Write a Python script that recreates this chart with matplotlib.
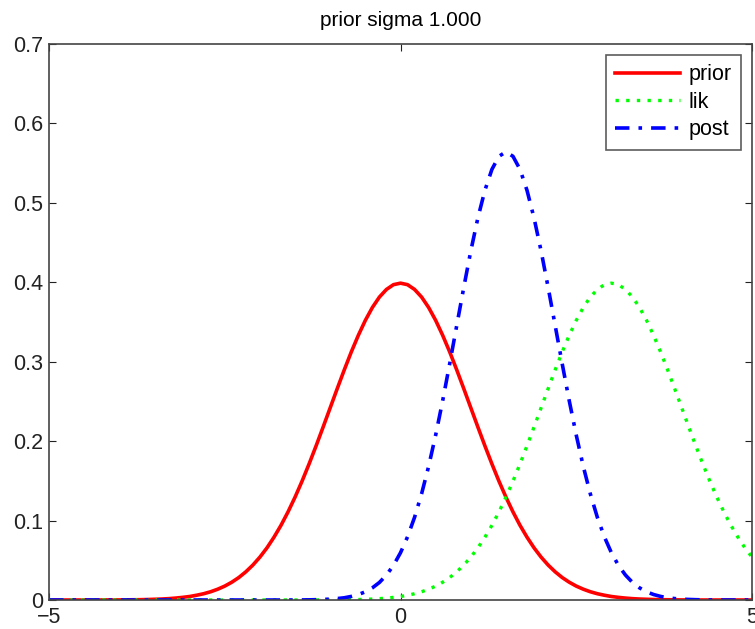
import numpy as np
import matplotlib
matplotlib.use("Agg")
import matplotlib.pyplot as plt

# x positions, step 0.1 from -5 to 5 (101 points)
x = np.round(np.arange(-50, 51) * 0.1, 1)

prior = [0.0000, 0.0000, 0.0000, 0.0000, 0.0000, 0.0000, 0.0000, 0.0000,
         0.0001, 0.0001, 0.0001, 0.0002, 0.0003, 0.0004, 0.0006, 0.0009, 0.0012, 0.0017,
         0.0024, 0.0033, 0.0044, 0.0060, 0.0079, 0.0104, 0.0136, 0.0175, 0.0224, 0.0283,
         0.0355, 0.0440, 0.0540, 0.0656, 0.0790, 0.0940, 0.1109, 0.1295, 0.1497, 0.1714,
         0.1942, 0.2179, 0.2420, 0.2661, 0.2897, 0.3123, 0.3332, 0.3521, 0.3683, 0.3814,
         0.3910, 0.3970, 0.3989,
         0.3970, 0.3910, 0.3814, 0.3683, 0.3521, 0.3332, 0.3123, 0.2897, 0.2661, 0.2420,
         0.2179, 0.1942, 0.1714, 0.1497, 0.1295, 0.1109, 0.0940, 0.0790, 0.0656, 0.0540,
         0.0440, 0.0355, 0.0283, 0.0224, 0.0175, 0.0136, 0.0104, 0.0079, 0.0060, 0.0044,
         0.0033, 0.0024, 0.0017, 0.0012, 0.0009, 0.0006, 0.0004, 0.0003, 0.0002, 0.0001,
         0.0001, 0.0001, 0.0000, 0.0000, 0.0000, 0.0000, 0.0000, 0.0000, 0.0000, 0.0000]

lik = [0.0000] * 30 + [
       0.0000, 0.0000, 0.0000, 0.0000, 0.0000, 0.0000, 0.0000, 0.0000,
       0.0001, 0.0001, 0.0001, 0.0002, 0.0003, 0.0004, 0.0006, 0.0009, 0.0012, 0.0017,
       0.0024, 0.0033, 0.0044, 0.0060, 0.0079, 0.0104, 0.0136, 0.0175, 0.0224, 0.0283,
       0.0355, 0.0440, 0.0540, 0.0656, 0.0790, 0.0940, 0.1109, 0.1295, 0.1497, 0.1714,
       0.1942, 0.2179, 0.2420, 0.2661, 0.2897, 0.3123, 0.3332, 0.3521, 0.3683, 0.3814,
       0.3910, 0.3970, 0.3989,
       0.3970, 0.3910, 0.3814, 0.3683, 0.3521, 0.3332, 0.3123, 0.2897, 0.2661, 0.2420,
       0.2179, 0.1942, 0.1714, 0.1497, 0.1295, 0.1109, 0.0940, 0.0790, 0.0656, 0.0540]

post = [0.0000] * 35 + [
        0.0001, 0.0001, 0.0002, 0.0004, 0.0007, 0.0011, 0.0018, 0.0028, 0.0045, 0.0069,
        0.0103, 0.0153, 0.0221, 0.0314, 0.0436, 0.0595, 0.0795, 0.1041, 0.1337, 0.1682,
        0.2076, 0.2510, 0.2975, 0.3456, 0.3936, 0.4394, 0.4808, 0.5156, 0.5421, 0.5586,
        0.5642,
        0.5586, 0.5421, 0.5156, 0.4808, 0.4394, 0.3936, 0.3456, 0.2975, 0.2510, 0.2076,
        0.1682, 0.1337, 0.1041, 0.0795, 0.0595, 0.0436, 0.0314, 0.0221, 0.0153, 0.0103,
        0.0069, 0.0045, 0.0028, 0.0018, 0.0011, 0.0007, 0.0004, 0.0002, 0.0001, 0.0001,
        0.0000, 0.0000, 0.0000, 0.0000, 0.0000]

plt.rcParams['font.family'] = ['Liberation Sans', 'DejaVu Sans']

fig = plt.figure(figsize=(7.55, 6.29), dpi=100)
ax = fig.add_axes([49 / 755, 29 / 629, 703 / 755, 556 / 629])

ax.plot(x, prior, color='red', lw=2.6, ls='-', label='prior')
ax.plot(x, lik, color='#00ff00', lw=2.4, ls=(0, (1, 2.2)), label='lik')
ax.plot(x, post, color='blue', lw=2.6, ls=(0, (4, 2.5, 1, 2.5)), label='post')

ax.set_xlim(-5, 5)
ax.set_ylim(0, 0.7)
ax.set_xticks([-5, 0, 5])
ax.set_yticks(np.arange(0, 0.71, 0.1))
ax.set_yticklabels(['0', '0.1', '0.2', '0.3', '0.4', '0.5', '0.6', '0.7'])
ax.tick_params(direction='in', top=True, right=True, length=5, width=0.8,
               labelsize=15.5, colors='#222222')
ax.tick_params(axis='x', pad=5)
ax.tick_params(axis='y', pad=4.5)
for s in ax.spines.values():
    s.set_color('#444444')
    s.set_linewidth(1.2)

ax.set_title('prior sigma 1.000', fontsize=15, pad=13)

leg = ax.legend(loc='upper right', fontsize=15.5, frameon=True, fancybox=False,
                edgecolor='#333333', handlelength=3.0, borderaxespad=0.5,
                labelspacing=0.3, handletextpad=0.4, borderpad=0.45)
leg.get_frame().set_linewidth(1.2)

fig.savefig('out.png', dpi=100)
